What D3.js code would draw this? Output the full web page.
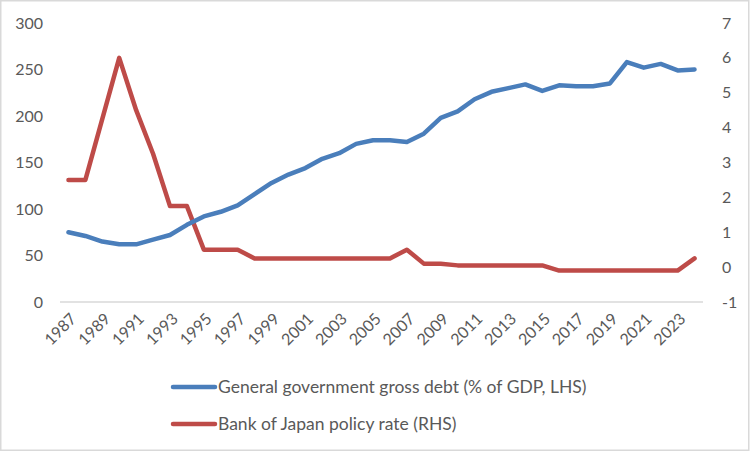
<!DOCTYPE html>
<html><head><meta charset="utf-8">
<script src="https://cdn.jsdelivr.net/npm/d3@7"></script>
<style>body{margin:0;background:#fff}svg{display:block}text{font-family:Lato,"Liberation Sans",sans-serif;fill:#595959}</style>
</head><body><svg id="c" width="751" height="452"></svg>
<script>
const years = d3.range(1987, 2025);
const debt = [75,71,65,62,62,67,72,83,92,97,104,116,128,137,144,154,160,170,174,174,172,181,198,205,218,226,230,234,227,233,232,232,235,258,252,256,249,250];
const rate = [2.5,2.5,4.25,6.0,4.5,3.25,1.75,1.75,0.5,0.5,0.5,0.25,0.25,0.25,0.25,0.25,0.25,0.25,0.25,0.25,0.5,0.1,0.1,0.05,0.05,0.05,0.05,0.05,0.05,-0.1,-0.1,-0.1,-0.1,-0.1,-0.1,-0.1,-0.1,0.25];
const leftTicks = [0,50,100,150,200,250,300];
const rightTicks = [-1,0,1,2,3,4,5,6,7];
const seriesNames = ["General government gross debt (% of GDP, LHS)", "Bank of Japan policy rate (RHS)"];
const colors = ["#4A7EBB", "#BE4B48"];

const svg = d3.select("#c");
svg.append("rect").attr("x",0.75).attr("y",0.75).attr("width",748).attr("height",449.5)
  .attr("fill","#fff").attr("stroke","#d9d9d9").attr("stroke-width",1.5);

const x = d3.scaleBand().domain(years).range([60,703]);
const yL = d3.scaleLinear().domain([0,300]).range([302,23]);
const yR = d3.scaleLinear().domain([-1,7]).range([302,23]);
const cx = d => x(d) + x.bandwidth()/2;

svg.append("g").selectAll("text").data(leftTicks).join("text")
  .attr("x",43).attr("y",d=>yL(d)).attr("dy","0.35em").attr("text-anchor","end")
  .attr("font-size",16).text(d=>d);
svg.append("g").selectAll("text").data(rightTicks).join("text")
  .attr("x",722).attr("y",d=>yR(d)).attr("dy","0.35em").attr("text-anchor","start")
  .attr("font-size",16).text(d=>d);
svg.append("line").attr("x1",60).attr("x2",703).attr("y1",yL(0)).attr("y2",yL(0))
  .attr("stroke","#d9d9d9").attr("stroke-width",1.5);
svg.append("g").selectAll("text").data(years.filter((d,i)=>i%2===0)).join("text")
  .attr("transform",d=>`translate(${cx(d)+5},${yL(0)+14}) rotate(-45)`)
  .attr("text-anchor","end").attr("dy","0.35em").attr("font-size",16).text(d=>d);

const lineL = d3.line().x((d,i)=>cx(years[i])).y(d=>yL(d));
const lineR = d3.line().x((d,i)=>cx(years[i])).y(d=>yR(d));
svg.append("path").attr("d",lineR(rate)).attr("fill","none").attr("stroke",colors[1])
  .attr("stroke-width",4.5).attr("stroke-linejoin","round").attr("stroke-linecap","round");
svg.append("path").attr("d",lineL(debt)).attr("fill","none").attr("stroke",colors[0])
  .attr("stroke-width",4.5).attr("stroke-linejoin","round").attr("stroke-linecap","round");

const lg = svg.append("g").selectAll("g").data(seriesNames).join("g")
  .attr("transform",(d,i)=>`translate(173,${387+i*37})`);
lg.append("line").attr("x1",0).attr("x2",42).attr("stroke",(d,i)=>colors[i])
  .attr("stroke-width",4.5).attr("stroke-linecap","round");
lg.append("text").attr("x",45).attr("dy","0.35em").attr("font-size",17.5).text(d=>d);
</script></body></html>
